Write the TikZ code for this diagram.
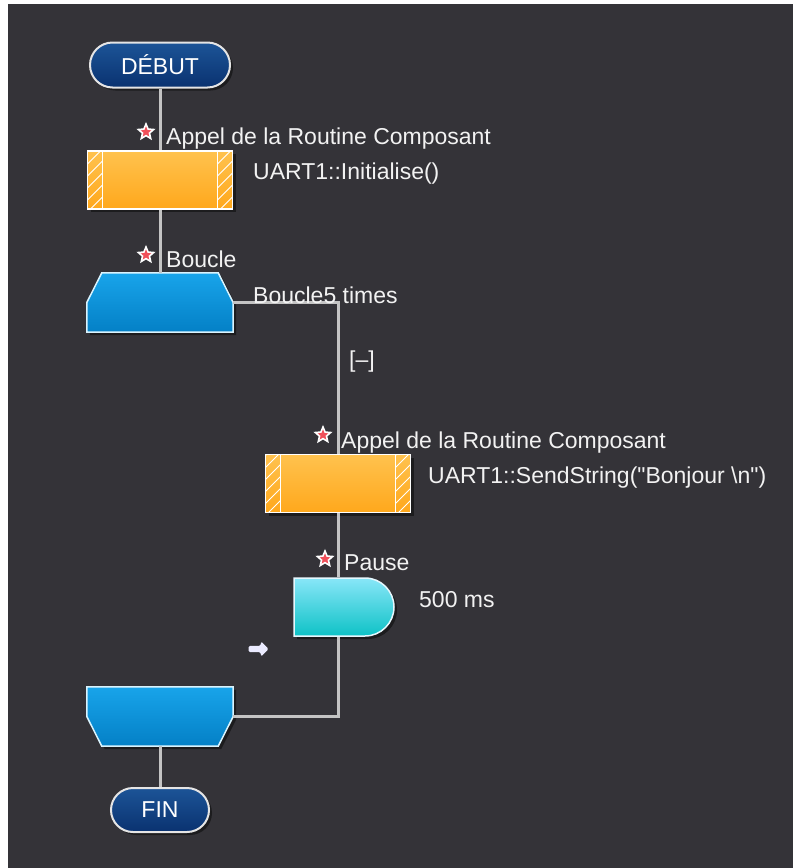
\documentclass[tikz,border=0pt]{standalone}
\usepackage{fontspec}
\setmainfont{Liberation Sans}[Ligatures=TeXOff]
\usetikzlibrary{shapes.misc,shapes.geometric,shapes.arrows,shadows}
\definecolor{bgdark}{HTML}{343338}
\definecolor{wire}{HTML}{C4C4C4}
\definecolor{pilltop}{HTML}{1C5497}
\definecolor{pillbot}{HTML}{0A3270}
\definecolor{calltop}{HTML}{FFC24E}
\definecolor{callbot}{HTML}{FFA81C}
\definecolor{looptop}{HTML}{18A4EA}
\definecolor{loopbot}{HTML}{0480C6}
\definecolor{delaytop}{HTML}{88E6F8}
\definecolor{delaybot}{HTML}{0EC2C6}
\definecolor{labeltext}{HTML}{F2F2F2}
\definecolor{starred}{HTML}{F0505A}
\begin{document}
\begin{tikzpicture}[x=1pt,y=-1pt,
  every node/.style={inner sep=0pt,font=\fontsize{23}{26}\selectfont,text=labeltext},
  shad/.style={drop shadow={shadow xshift=3pt,shadow yshift=-3pt,fill=black,opacity=0.45}},
  wireline/.style={draw=wire,line width=3},
  pill/.style={rounded rectangle,draw=white!80!gray,line width=2,top color=pilltop,bottom color=pillbot,shad,text=white},
  callbox/.style={rectangle,minimum width=145,minimum height=58,draw=white,line width=1.5,
    top color=calltop,bottom color=callbot,shad,
    path picture={
      \draw[white,line width=1.2] ([xshift=15]path picture bounding box.north west) -- ([xshift=15]path picture bounding box.south west)
        ([xshift=-15]path picture bounding box.north east) -- ([xshift=-15]path picture bounding box.south east);
      \foreach \k in {0,...,6}{
        \draw[white,line width=1] ([yshift=\k*12-15]path picture bounding box.south west) -- ([xshift=15,yshift=\k*12]path picture bounding box.south west)
          ([xshift=-15,yshift=\k*12-15]path picture bounding box.south east) -- ([yshift=\k*12]path picture bounding box.south east);
      }
    }},
  loopbox/.style={rectangle,minimum width=146,minimum height=59},
  loopfill/.style={draw=white!85!cyan,line width=1.5,top color=looptop,bottom color=loopbot,shad},
  delay/.style={rounded rectangle,rounded rectangle west arc=none,minimum width=100,minimum height=58,
    draw=white!90!cyan,line width=1.5,top color=delaytop,bottom color=delaybot,shad},
  mark star/.style={star,star points=5,star point ratio=2.2,minimum size=16,fill=starred,draw=white,line width=1.6}
]
\useasboundingbox (0,0) rectangle (793,868);
\fill[white] (0,0) rectangle (793,868);
\fill[bgdark] (8,4) rectangle (793,868);

\node[pill,minimum width=140,minimum height=45] (debut) at (160,65) {DÉBUT};
\node[callbox] (call1) at (160,180) {};
\node[loopbox] (loopA) at (160,302.5) {};
\shade[loopfill] ([xshift=15]loopA.north west) -- ([xshift=-15]loopA.north east) -- (loopA.east)
  -- (loopA.south east) -- (loopA.south west) -- (loopA.west) -- cycle;
\node[callbox] (call2) at (338,483.5) {};
\node[delay] (pause) at (344,607) {};
\node[loopbox] (loopB) at (160,716.5) {};
\shade[loopfill] (loopB.north west) -- (loopB.north east) -- (loopB.east) -- ([xshift=-15]loopB.south east)
  -- ([xshift=15]loopB.south west) -- (loopB.west) -- cycle;
\node[pill,minimum width=98,minimum height=44] (fin) at (160,810) {FIN};

\draw[wireline] (debut.south) -- (call1.north);
\draw[wireline] (call1.south) -- (loopA.north);
\draw[wireline] (loopA.east) -| (call2.north);
\draw[wireline] (call2.south) -- (call2.south |- pause.north);
\draw[wireline] (call2.south |- pause.south) |- (loopB.east);
\draw[wireline] (loopB.south) -- (fin.north);

\node[mark star] (star1) at (146,132) {};
\node[anchor=base west] (title1) at (166,144) {Appel de la Routine Composant};
\node[anchor=base west] (args1) at (253,179) {UART1::Initialise()};
\node[mark star] (star2) at (146,255) {};
\node[anchor=base west] (title2) at (166,267) {Boucle};
\node[anchor=base west] (count) at (253,303) {Boucle5 times};
\node (fold) at (362,362) {[–]};
\node[mark star] (star3) at (323,435) {};
\node[anchor=base west] (title3) at (341,448) {Appel de la Routine Composant};
\node[anchor=base west] (args3) at (428,483) {UART1::SendString("Bonjour \textbackslash n")};
\node[mark star] (star4) at (325,559) {};
\node[anchor=base west] (title4) at (344,570) {Pause};
\node[anchor=base west] (args4) at (419,607) {500 ms};
\node[single arrow,fill=white!92!blue,inner sep=3,minimum height=20,single arrow head extend=4.5,
  rounded corners=1.5] (next) at (257,649) {};
\end{tikzpicture}
\end{document}
